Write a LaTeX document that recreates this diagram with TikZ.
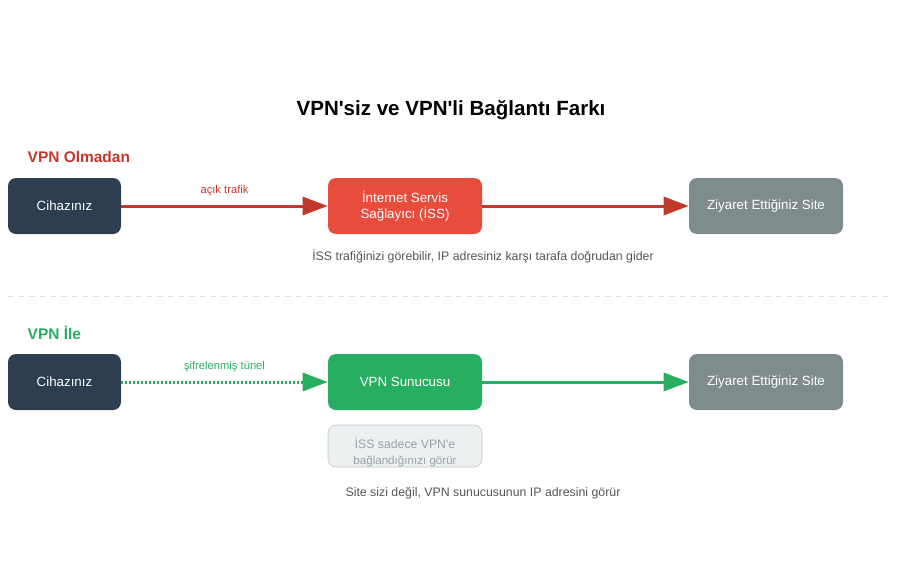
\documentclass[tikz,border=0pt]{standalone}
\usepackage{fontspec}
\setmainfont{Liberation Sans}
\usetikzlibrary{arrows.meta}

\definecolor{devblue}{HTML}{2C3E50}
\definecolor{ispred}{HTML}{E74C3C}
\definecolor{linered}{HTML}{C0392B}
\definecolor{vpngreen}{HTML}{27AE60}
\definecolor{sitegray}{HTML}{7F8C8D}
\definecolor{notefill}{HTML}{ECF0F1}
\definecolor{noteline}{HTML}{BDC3C7}
\definecolor{notetext}{HTML}{95A5A6}
\definecolor{captext}{HTML}{555555}

\tikzset{
  box/.style={rounded corners=6pt, minimum height=42pt, inner sep=0pt,
    text=white, align=center, font=\fontsize{10}{12}\selectfont},
  flow/.style={line width=2.25pt, -{Triangle[length=18.75pt,width=13.5pt]}},
  caption/.style={text=captext, font=\fontsize{9.25}{11}\selectfont},
  head/.style={anchor=west, font=\bfseries\fontsize{11.6}{14}\selectfont}
}

\begin{document}
\begin{tikzpicture}[x=0.75pt,y=-0.75pt]
\useasboundingbox (0,0) rectangle (898,560);

\node (title) at (451,110.5) {\bfseries\fontsize{15.4}{18}\selectfont VPN\textquotesingle siz ve VPN\textquotesingle li Bağlantı Farkı};

% without vpn
\node[head, text=linered] (headA) at (23,157) {VPN Olmadan};
\node[box, fill=devblue, minimum width=84.75pt] (devA) at (64.5,206) {Cihazınız};
\node[box, fill=ispred, minimum width=115.5pt] (isp) at (405,206) {İnternet Servis\\Sağlayıcı (İSS)};
\node[box, fill=sitegray, minimum width=115.5pt] (siteA) at (766,206) {Ziyaret Ettiğiniz Site};
\draw[flow, linered] (devA) -- node[midway, yshift=11.5pt, text=linered, font=\fontsize{8.4}{10}\selectfont]{açık trafik} (isp);
\draw[flow, linered] (isp) -- (siteA);
\node[caption] (capA) at (483,256) {İSS trafiğinizi görebilir, IP adresiniz karşı tarafa doğrudan gider};

\coordinate (sepL) at (8,296);
\coordinate (sepR) at (892,296);
\draw[black!13, dash pattern=on 4pt off 4pt] (sepL) -- (sepR);

% with vpn
\node[head, text=vpngreen] (headB) at (23,333) {VPN İle};
\node[box, fill=devblue, minimum width=84.75pt] (devB) at (64.5,382) {Cihazınız};
\node[box, fill=vpngreen, minimum width=115.5pt] (vpn) at (405,382) {VPN Sunucusu};
\node[box, fill=sitegray, minimum width=115.5pt] (siteB) at (766,382) {Ziyaret Ettiğiniz Site};
\draw[flow, vpngreen, dash pattern=on 1.5pt off 1.5pt] (devB) -- node[midway, yshift=11.5pt, text=vpngreen, font=\fontsize{8.4}{10}\selectfont]{şifrelenmiş tünel} (vpn);
\draw[flow, vpngreen] (vpn) -- (siteB);
\node[rounded corners=6pt, draw=noteline, fill=notefill, minimum width=115.5pt, minimum height=31.5pt, inner sep=0pt] (note) at (405,446) {};
\node[text=notetext, align=center, inner sep=0pt] (noteText) at (405,452) {\fontsize{9.2}{12.75}\selectfont İSS sadece VPN\textquotesingle e\\\fontsize{8.7}{12.75}\selectfont bağlandığınızı görür};
\node[caption] (capB) at (483,493) {Site sizi değil, VPN sunucusunun IP adresini görür};

\end{tikzpicture}
\end{document}
